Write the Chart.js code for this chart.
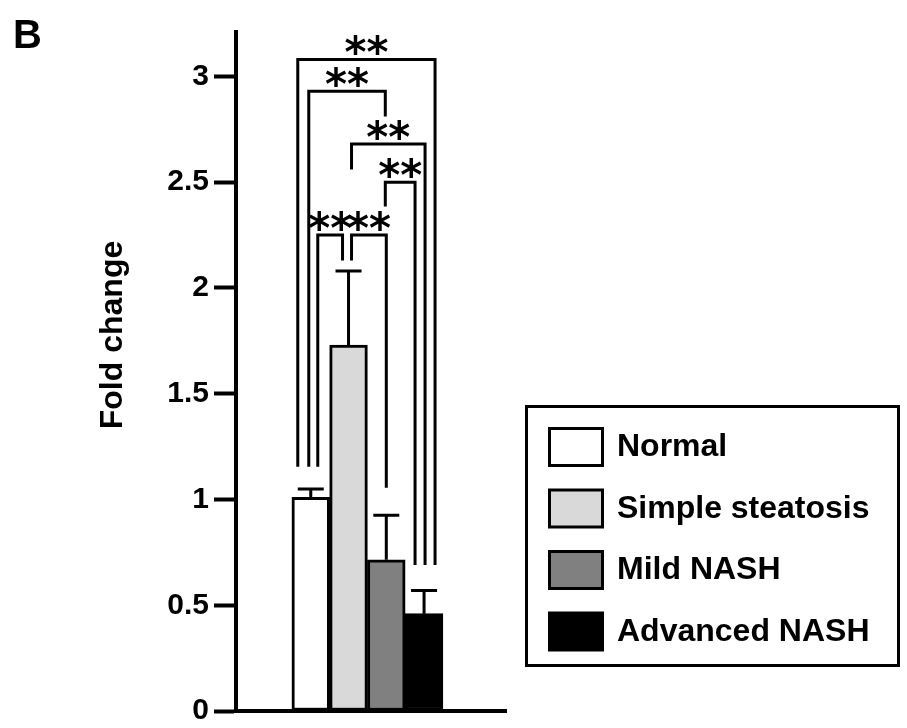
<!DOCTYPE html>
<html>
<head>
<meta charset="utf-8">
<script src="https://cdn.jsdelivr.net/npm/chart.js@4.4.1/dist/chart.umd.min.js"></script>
<style>
  html, body { margin: 0; padding: 0; background: #fff; }
</style>
</head>
<body>
<canvas id="chart" width="907" height="728"></canvas>
<script>
const categories = ['Normal', 'Simple steatosis', 'Mild NASH', 'Advanced NASH'];
const foldChange = [1.01, 1.73, 0.715, 0.46];
const errorUpper = [0.04, 0.35, 0.21, 0.11];
const barColors = ['#ffffff', '#d9d9d9', '#808080', '#000000'];
const yTicks = [0, 0.5, 1, 1.5, 2, 2.5, 3];

// significance brackets: [from, to, bracket height, left leg end, right leg end]
const brackets = [
  [0, 3, 3.08, 1.155, 0.69],
  [0, 2, 2.93, 1.155, 2.81],
  [1, 3, 2.68, 2.56, 0.69],
  [2, 3, 2.50, 2.385, 0.69],
  [0, 1, 2.25, 1.155, 2.13],
  [1, 2, 2.25, 2.13, 1.055]
];
const bracketLabels = ['**', '**', '**', '**', '**', '**'];

// leg x offsets from the bar centres, px
const legOffsets = [[-13, 11], [-2, -1], [3, 1], [-1, -9], [7, -6], [3, 0]];

const FONT = '"Liberation Sans", Arial, sans-serif';

const annotate = {
  id: 'annotate',
  afterDatasetsDraw(chart) {
    const {ctx, scales: {x, y}} = chart;
    ctx.save();
    ctx.strokeStyle = '#000';
    ctx.fillStyle = '#000';
    ctx.lineWidth = 3;
    ctx.lineJoin = 'miter';

    // error bars (upper only)
    foldChange.forEach((v, i) => {
      const cx = x.getPixelForValue(i);
      const y0 = y.getPixelForValue(v);
      const y1 = y.getPixelForValue(v + errorUpper[i]);
      ctx.beginPath();
      ctx.moveTo(cx, y0);
      ctx.lineTo(cx, y1);
      ctx.moveTo(cx - 13, y1);
      ctx.lineTo(cx + 13, y1);
      ctx.stroke();
    });

    // brackets + stars
    ctx.font = 'bold 42px "DejaVu Sans"';
    ctx.textAlign = 'center';
    ctx.textBaseline = 'alphabetic';
    brackets.forEach(([a, b, top, endA, endB], k) => {
      const xa = x.getPixelForValue(a) + legOffsets[k][0];
      const xb = x.getPixelForValue(b) + legOffsets[k][1];
      const yt = y.getPixelForValue(top);
      ctx.beginPath();
      ctx.moveTo(xa, y.getPixelForValue(endA));
      ctx.lineTo(xa, yt);
      ctx.lineTo(xb, yt);
      ctx.lineTo(xb, y.getPixelForValue(endB));
      ctx.stroke();

      const m = ctx.measureText(bracketLabels[k]);
      const yc = yt - 14;
      ctx.fillText(bracketLabels[k], (xa + xb) / 2, yc + (m.actualBoundingBoxAscent - m.actualBoundingBoxDescent) / 2);
    });
    ctx.restore();
  },
  afterDraw(chart) {
    const {ctx} = chart;
    ctx.save();
    ctx.fillStyle = '#000';
    ctx.strokeStyle = '#000';

    // panel letter
    ctx.font = 'bold 40px ' + FONT;
    ctx.textAlign = 'left';
    ctx.textBaseline = 'alphabetic';
    ctx.fillText('B', 13, 48);

    // y axis title
    ctx.save();
    ctx.translate(122, 335);
    ctx.rotate(-Math.PI / 2);
    ctx.font = 'bold 32px ' + FONT;
    ctx.textAlign = 'center';
    ctx.fillText('Fold change', 0, 0);
    ctx.restore();

    // legend
    ctx.lineWidth = 3;
    ctx.strokeRect(526.5, 406.5, 372, 259);
    ctx.font = 'bold 32px ' + FONT;
    ctx.textAlign = 'left';
    ctx.textBaseline = 'middle';
    categories.forEach((c, i) => {
      const top = 428.5 + i * 61.5;
      ctx.fillStyle = barColors[i];
      ctx.fillRect(549.5, top, 53, 37);
      ctx.strokeRect(549.5, top, 53, 37);
      ctx.fillStyle = '#000';
      ctx.fillText(c, 617, top + 19);
    });
    ctx.restore();
  }
};

new Chart(document.getElementById('chart'), {
  type: 'bar',
  data: {
    labels: categories,
    datasets: [{
      label: 'Fold change',
      data: foldChange.map((v, i) => ({x: i, y: v})),
      backgroundColor: barColors,
      borderColor: '#000',
      borderWidth: 3,
      borderSkipped: false,
      categoryPercentage: 1,
      barPercentage: 1
    }]
  },
  options: {
    responsive: false,
    animation: false,
    devicePixelRatio: 1,
    layout: { padding: { left: 0, top: 32, right: 401, bottom: 12 } },
    scales: {
      x: {
        type: 'linear',
        offset: false,
        min: -1.98,
        max: 5.17,
        ticks: { display: false },
        grid: { display: false, drawTicks: false, offset: false },
        border: { display: true, color: '#000', width: 4 }
      },
      y: {
        min: 0,
        max: 3.21,
        afterBuildTicks: s => { s.ticks = yTicks.map(v => ({ value: v })); },
        afterFit: s => { s.width = 236; },
        ticks: {
          color: '#000',
          padding: 5,
          callback: v => String(v),
          font: { family: FONT, size: 30, weight: 'bold', lineHeight: 0.8 }
        },
        grid: {
          display: true,
          drawOnChartArea: false,
          drawTicks: true,
          tickLength: 22,
          tickWidth: 4,
          tickColor: '#000'
        },
        border: { display: true, color: '#000', width: 4 }
      }
    },
    plugins: {
      legend: { display: false },
      tooltip: { enabled: false }
    }
  },
  plugins: [annotate]
});
</script>
</body>
</html>
